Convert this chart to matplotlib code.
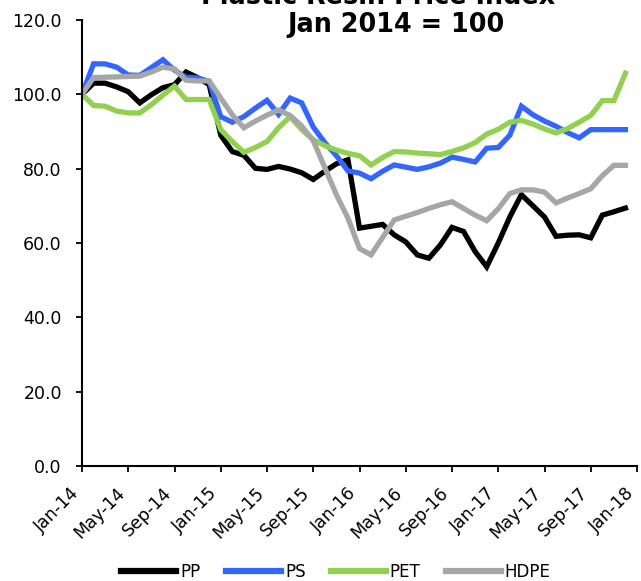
import matplotlib
matplotlib.use("Agg")
import matplotlib.pyplot as plt
import matplotlib.transforms as mtransforms

# monthly index values, Jan 2014 = 100
months = ["Jan-14", "May-14", "Sep-14", "Jan-15", "May-15", "Sep-15", "Jan-16",
          "May-16", "Sep-16", "Jan-17", "May-17", "Sep-17", "Jan-18"]

pp = [100, 103, 103, 102, 100.7, 97.7, 99.9, 101.8, 102.6, 106, 104.5, 102.6,
      89, 84.6, 83.6, 80.1, 79.8, 80.6, 79.9, 78.9, 77.1, 79.3, 81.3, 82.4,
      64, 64.5, 65, 62.2, 60.3, 56.8, 55.9, 59.5, 64.2, 63.1, 57.7, 53.6,
      60, 67, 73, 70, 67, 61.8, 62.1, 62.2, 61.4, 67.5, 68.4, 69.4]
ps = [100, 108.2, 108.2, 107.3, 105.2, 105.1, 107.2, 109.3, 106.5, 104.6, 104.4, 103.5,
      94, 92.5, 94, 96.3, 98.4, 94.6, 99, 97.7, 91.2, 87, 83.5, 79.4,
      78.8, 77.3, 79.3, 81, 80.4, 79.8, 80.5, 81.5, 83.1, 82.5, 81.8, 85.5,
      85.7, 89, 96.8, 94.5, 92.8, 91.4, 89.7, 88.3, 90.5, 90.5, 90.5, 90.5]
pet = [100, 97, 96.8, 95.5, 95, 95, 97.2, 99.8, 102.2, 98.6, 98.6, 98.6,
       90.5, 87.3, 84.4, 85.7, 87.3, 91, 94, 90.5, 87.8, 86.2, 85, 84.1,
       83.5, 81, 83, 84.6, 84.5, 84.2, 84, 83.8, 84.6, 85.6, 87, 89.3,
       90.6, 92.5, 93, 92, 90.7, 89.6, 90.8, 92.5, 94.3, 98.3, 98.3, 105.7]
hdpe = [100, 104.5, 104.6, 104.7, 104.8, 104.9, 106, 107.3, 106.8, 103.8, 103.6, 103.6,
        99, 94.5, 91, 92.8, 94.4, 95.8, 94.3, 91.5, 87.5, 80.3, 73, 66.7,
        58.5, 56.8, 61.5, 66.2, 67.2, 68.2, 69.3, 70.3, 71.1, 69.3, 67.5, 66,
        69.2, 73.3, 74.3, 74.3, 73.7, 70.8, 72.1, 73.3, 74.6, 78.1, 80.9, 80.9]

series = [("PP", pp, "#000000"), ("PS", ps, "#3366ff"),
          ("PET", pet, "#92d050"), ("HDPE", hdpe, "#a6a6a6")]

fig = plt.figure(figsize=(6.41, 5.81), dpi=100)
ax = fig.add_axes([82 / 641, 115 / 581, 555 / 641, 446 / 581])

x = list(range(len(pp)))
for name, vals, col in series:
    ax.plot(x, vals, color=col, lw=3.8, label=name, solid_joinstyle="miter")

ax.set_xlim(0, 48)
ax.set_ylim(0, 120)
ax.set_yticks(range(0, 121, 20))
ax.set_yticklabels(["%.1f" % v for v in range(0, 121, 20)], fontsize=12.5)
ax.set_xticks(range(0, 49, 4))
ax.set_xticklabels(months, rotation=45, ha="right", va="center",
                   rotation_mode="anchor", fontsize=12.5)
ax.tick_params(axis="both", direction="out", length=4.5, width=1.3, colors="black")
ax.tick_params(axis="y", pad=10)
ax.tick_params(axis="x", pad=13)
# nudge rotated labels left so they end under their ticks
shift = mtransforms.ScaledTranslation(-0.06, 0, fig.dpi_scale_trans)
for lab in ax.get_xticklabels():
    lab.set_transform(lab.get_transform() + shift)
for s in ["top", "right"]:
    ax.spines[s].set_visible(False)
for s in ["left", "bottom"]:
    ax.spines[s].set_linewidth(1.5)

fig.text(378 / 641, 1 - 4 / 581, "Plastic Resin Price Index", ha="center", va="baseline",
         fontsize=18.4, fontweight="bold")
fig.text(396 / 641, 1 - 32 / 581, "Jan 2014 = 100", ha="center", va="baseline",
         fontsize=18.4, fontweight="bold")

fig.legend(loc="center", bbox_to_anchor=(336 / 641, 9 / 581), ncol=4, frameon=False,
           fontsize=12, handlelength=3.3, handletextpad=0.25, columnspacing=1.5)
for line in fig.legends[0].get_lines():
    line.set_linewidth(4.5)

fig.savefig("out.png", dpi=100)
